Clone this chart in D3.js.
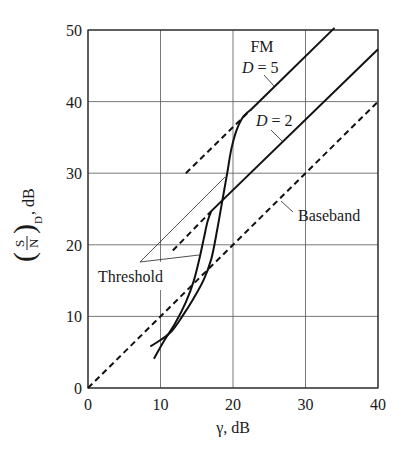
<!DOCTYPE html>
<html>
<head>
<meta charset="utf-8">
<script src="https://d3js.org/d3.v7.min.js"></script>
<style>
  body { margin: 0; background: #fff; }
  text { font-family: "Liberation Serif", "DejaVu Serif", serif; fill: #1a1a1a; }
</style>
</head>
<body>
<script>
const xTicks = [0, 10, 20, 30, 40];
const yTicks = [0, 10, 20, 30, 40, 50];
const baseband = [[0, 0], [40, 40]];
const fm5Line = [[22.5, 38.9], [34, 50.3]];
const fm5Dash = [[13.5, 30], [22.5, 38.9]];
const fm5Knee = [[8.6, 5.8], [10, 6.7], [11.5, 7.9], [13, 10], [14.5, 12.4], [16, 15.2], [17, 18], [17.8, 22], [18.5, 26], [19.2, 30], [19.8, 33.5], [20.6, 36.3], [21.5, 38], [22.5, 38.9]];
const fm2Line = [[17, 24.7], [40, 47.3]];
const fm2Dash = [[11.7, 19.2], [17, 24.7]];
const fm2Knee = [[9.1, 4.1], [10.5, 6.6], [12, 9], [13.5, 12], [14.6, 15], [15.4, 18.2], [16, 21], [16.5, 23.3], [17, 24.7]];

const width = 405, height = 450;
const svg = d3.select("body").append("svg").attr("width", width).attr("height", height);
const x = d3.scaleLinear().domain([0, 40]).range([88, 378]);
const y = d3.scaleLinear().domain([0, 50]).range([388, 30]);

// grid
svg.selectAll(".gx").data(xTicks).enter().append("line")
  .attr("x1", d => x(d)).attr("x2", d => x(d)).attr("y1", y(0)).attr("y2", y(50))
  .attr("stroke", "#555").attr("stroke-width", 0.8);
svg.selectAll(".gy").data(yTicks).enter().append("line")
  .attr("x1", x(0)).attr("x2", x(40)).attr("y1", d => y(d)).attr("y2", d => y(d))
  .attr("stroke", "#555").attr("stroke-width", 0.8);
svg.append("rect").attr("x", x(0)).attr("y", y(50)).attr("width", x(40) - x(0)).attr("height", y(0) - y(50))
  .attr("fill", "none").attr("stroke", "#222").attr("stroke-width", 1.2);

// white box behind Threshold label (grid breaks there)
svg.append("rect").attr("x", 96).attr("y", 262).attr("width", 76).attr("height", 28).attr("fill", "#fff");

svg.selectAll(".tx").data(xTicks).enter().append("text")
  .attr("x", d => x(d)).attr("y", 410).attr("text-anchor", "middle").attr("font-size", 16).text(d => d);
svg.selectAll(".ty").data(yTicks).enter().append("text")
  .attr("x", 82).attr("y", d => y(d) + 6).attr("text-anchor", "end").attr("font-size", 16).text(d => d);

svg.append("text").attr("x", x(20)).attr("y", 433).attr("text-anchor", "middle").attr("font-size", 16).text("γ, dB");

// y label
const yl = svg.append("g").attr("transform", "translate(26,222) rotate(-90)");
yl.append("text").attr("x", -40).attr("y", 8).attr("font-size", 30).text("(");
yl.append("text").attr("x", -25).attr("y", -2).attr("font-size", 13).text("S");
yl.append("line").attr("x1", -28).attr("x2", -14).attr("y1", 1).attr("y2", 1).attr("stroke", "#222");
yl.append("text").attr("x", -26).attr("y", 12).attr("font-size", 13).text("N");
yl.append("text").attr("x", -12).attr("y", 8).attr("font-size", 30).text(")");
yl.append("text").attr("x", -2).attr("y", 16).attr("font-size", 11).text("D");
yl.append("text").attr("x", 7).attr("y", 8).attr("font-size", 16).text(", dB");

const line = d3.line().x(d => x(d[0])).y(d => y(d[1]));
const smooth = d3.line().x(d => x(d[0])).y(d => y(d[1])).curve(d3.curveCatmullRom);
function draw(data, gen, dashed) {
  svg.append("path").datum(data).attr("d", gen).attr("fill", "none")
    .attr("stroke", "#111").attr("stroke-width", 2)
    .attr("stroke-dasharray", dashed ? "6,4" : null);
}
draw(baseband, line, true);
draw(fm5Dash, line, true);
draw(fm2Dash, line, true);
draw(fm5Line, line, false);
draw(fm2Line, line, false);
draw(fm5Knee, smooth, false);
draw(fm2Knee, smooth, false);

// labels and leaders
function leader(x1, y1, x2, y2) {
  svg.append("line").attr("x1", x1).attr("y1", y1).attr("x2", x2).attr("y2", y2)
    .attr("stroke", "#222").attr("stroke-width", 0.8);
}
svg.append("text").attr("x", 262).attr("y", 52).attr("text-anchor", "middle").attr("font-size", 16).text("FM");
const d5 = svg.append("text").attr("x", 242).attr("y", 73).attr("font-size", 16);
d5.append("tspan").attr("font-style", "italic").text("D");
d5.append("tspan").text(" = 5");
leader(264, 75, 274, 86);
const d2 = svg.append("text").attr("x", 256).attr("y", 126).attr("font-size", 16);
d2.append("tspan").attr("font-style", "italic").text("D");
d2.append("tspan").text(" = 2");
leader(271, 130, 282, 141);
svg.append("text").attr("x", 298).attr("y", 221).attr("font-size", 16).text("Baseband");
leader(281, 201, 293, 212);
svg.append("text").attr("x", 98).attr("y", 282).attr("font-size", 16).text("Threshold");
leader(140, 262, 225, 177);
leader(140, 262, 199, 255);
</script>
</body>
</html>
